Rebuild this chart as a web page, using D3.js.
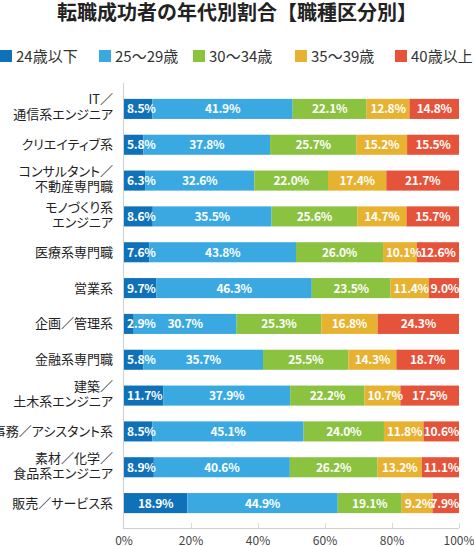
<!DOCTYPE html>
<html><head><meta charset="utf-8">
<script src="https://cdn.jsdelivr.net/npm/d3@7"></script>
<style>
html,body{margin:0;padding:0;background:#fff;}
svg{display:block;font-family:"Noto Sans CJK JP","Noto Sans",sans-serif;}
.palt{font-feature-settings:"palt";}
</style></head>
<body><svg id="c" width="474" height="546"></svg>
<script>
const title = "転職成功者の年代別割合【職種区分別】";
const categories = [
  ["IT／","通信系エンジニア"],
  ["クリエイティブ系"],
  ["コンサルタント／","不動産専門職"],
  ["モノづくり系","エンジニア"],
  ["医療系専門職"],
  ["営業系"],
  ["企画／管理系"],
  ["金融系専門職"],
  ["建築／","土木系エンジニア"],
  ["事務／アシスタント系"],
  ["素材／化学／","食品系エンジニア"],
  ["販売／サービス系"]
];
const seriesNames = ["24歳以下","25～29歳","30～34歳","35～39歳","40歳以上"];
const age24 = [8.5,5.8,6.3,8.6,7.6,9.7,2.9,5.8,11.7,8.5,8.9,18.9];
const age25 = [41.9,37.8,32.6,35.5,43.8,46.3,30.7,35.7,37.9,45.1,40.6,44.9];
const age30 = [22.1,25.7,22.0,25.6,26.0,23.5,25.3,25.5,22.2,24.0,26.2,19.1];
const age35 = [12.8,15.2,17.4,14.7,10.1,11.4,16.8,14.3,10.7,11.8,13.2,9.2];
const age40 = [14.8,15.5,21.7,15.7,12.6,9.0,24.3,18.7,17.5,10.6,11.1,7.9];
const tickLabels = ["0%","20%","40%","60%","80%","100%"];
const colors = ["#0f72b8","#3aa9e1","#8bc23f","#e8b231","#e5533b"];

const seriesVals = [age24,age25,age30,age35,age40];
const keys = seriesNames;
const rows = categories.map((c,i)=>{
  const o = {cat: c.join("")};
  keys.forEach((k,j)=> o[k] = seriesVals[j][i]);
  return o;
});

const svg = d3.select("#c");
const x0 = 124, x1 = 459;
const x = d3.scaleLinear().domain([0,1]).range([x0,x1]);
const y = d3.scaleBand().domain(rows.map(r=>r.cat)).range([91,521]).paddingInner(0.44).paddingOuter(0.22);
const color = d3.scaleOrdinal().domain(keys).range(colors);

// title
svg.append("text").attr("x",237).attr("y",20).attr("text-anchor","middle")
  .attr("font-size",20).attr("font-weight","bold").attr("fill","#222").text(title);

// legend
const legendX = [0,99,193,295,395];
const lg = svg.append("g").attr("class","palt");
keys.forEach((k,i)=>{
  const g = lg.append("g").attr("transform",`translate(${legendX[i]},50)`);
  g.append("rect").attr("width",12).attr("height",12).attr("fill",colors[i]);
  g.append("text").attr("x",16).attr("y",11.5).attr("font-size",15).attr("fill","#333").text(k);
});

// stack
const stack = d3.stack().keys(keys).offset(d3.stackOffsetExpand);
const stacked = stack(rows);

const bars = svg.append("g");
stacked.forEach((s,si)=>{
  bars.append("g").attr("fill",color(s.key)).selectAll("rect").data(s).join("rect")
    .attr("x",d=>x(d[0])).attr("width",d=>x(d[1])-x(d[0]))
    .attr("y",d=>y(d.data.cat)).attr("height",y.bandwidth());
});

// value labels
const lab = svg.append("g").attr("font-size",12).attr("font-weight","bold").attr("fill","#fff")
  .attr("text-anchor","middle").attr("letter-spacing","-0.3");
stacked.forEach((s,si)=>{
  s.forEach((d,ri)=>{
    const t = lab.append("text").attr("y",y(d.data.cat)+y.bandwidth()/2+4.5).text(d.data[s.key].toFixed(1)+"%");
    const tw = t.node().getComputedTextLength();
    let cx = (x(d[0])+x(d[1]))/2;
    cx = Math.max(cx, x(d[0])+3+tw/2);
    cx = Math.min(cx, x1-tw/2);
    t.attr("x",cx);
  });
});

// axes lines
svg.append("line").attr("x1",x0-0.5).attr("x2",x0-0.5).attr("y1",83).attr("y2",528).attr("stroke","#cfcfcf");
const xa = svg.append("g").attr("transform","translate(0,528)");
xa.append("line").attr("x1",x0-1).attr("x2",x1).attr("y1",0.5).attr("y2",0.5).attr("stroke","#cfcfcf");
const ticks = d3.range(0,1.0001,0.2);
ticks.forEach((t,i)=>{
  if(i>0) xa.append("line").attr("x1",Math.round(x(t))+0.5).attr("x2",Math.round(x(t))+0.5).attr("y1",-5).attr("y2",0).attr("stroke","#d8d8d8");
  xa.append("text").attr("x",x(t)).attr("y",17).attr("text-anchor","middle").attr("font-size",12).attr("fill","#444").text(tickLabels[i]);
});

// category labels
const cl = svg.append("g").attr("class","palt").attr("font-size",13).attr("fill","#222").attr("text-anchor","end");
categories.forEach((c,i)=>{
  const cy = y(rows[i].cat)+y.bandwidth()/2;
  const n = c.length;
  c.forEach((line,j)=>{
    const off = n > 1 ? -1.5 : 0;
    cl.append("text").attr("x",113).attr("y",cy + 4.5 + off + (j-(n-1)/2)*15).text(line);
  });
});
</script></body></html>
